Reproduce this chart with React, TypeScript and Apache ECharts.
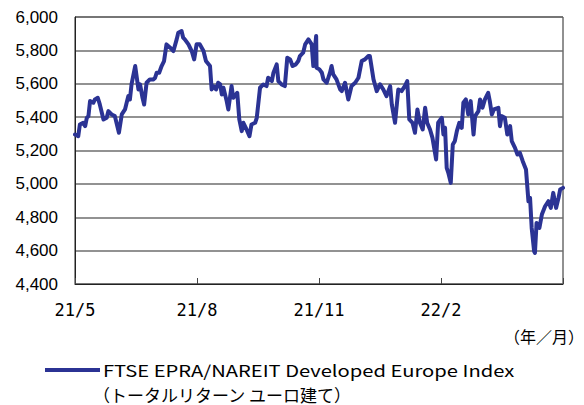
import React, { useEffect, useRef } from "react";
import * as echarts from "echarts";

// month offsets from 2021/5 (x position of each observation)
const monthOffsets = [
  0, 0.08, 0.12, 0.2, 0.25, 0.29, 0.33, 0.37, 0.45, 0.49, 0.56, 0.61, 0.7, 0.78, 0.82, 0.9, 0.98,
  1.08, 1.15, 1.23, 1.31, 1.35, 1.39, 1.48, 1.52, 1.56, 1.6, 1.66, 1.7, 1.76, 1.84, 1.93, 1.97,
  2.01, 2.07, 2.13, 2.19, 2.25, 2.34, 2.42, 2.5, 2.54, 2.62, 2.66, 2.7, 2.79, 2.87, 2.93, 2.99,
  3.07, 3.16, 3.22, 3.32, 3.36, 3.4, 3.47, 3.52, 3.57, 3.61, 3.65, 3.73, 3.77, 3.81, 3.85, 3.89,
  3.93, 3.99, 4.04, 4.1, 4.14, 4.2, 4.29, 4.34, 4.43, 4.47, 4.55, 4.63, 4.71, 4.75, 4.84, 4.88,
  4.96, 5.0, 5.08, 5.16, 5.22, 5.29, 5.35, 5.43, 5.49, 5.53, 5.61, 5.66, 5.74, 5.82, 5.86, 5.93,
  5.94, 6.01, 6.07, 6.11, 6.19, 6.27, 6.31, 6.35, 6.43, 6.52, 6.56, 6.64, 6.72, 6.8, 6.89, 6.97,
  7.05, 7.13, 7.21, 7.25, 7.34, 7.42, 7.5, 7.58, 7.66, 7.75, 7.79, 7.87, 7.95, 8.03, 8.11, 8.17,
  8.22, 8.3, 8.36, 8.42, 8.48, 8.55, 8.61, 8.66, 8.73, 8.79, 8.88, 8.93, 9.02, 9.06, 9.1, 9.14,
  9.18, 9.24, 9.29, 9.34, 9.39, 9.45, 9.51, 9.55, 9.61, 9.67, 9.73, 9.8, 9.84, 9.92, 9.96, 10.02,
  10.08, 10.16, 10.2, 10.25, 10.3, 10.41, 10.45, 10.49, 10.57, 10.63, 10.7, 10.74, 10.82, 10.88,
  10.94, 11.01, 11.09, 11.15, 11.19, 11.23, 11.29, 11.31, 11.35, 11.42, 11.48, 11.56, 11.64, 11.7,
  11.76, 11.83, 11.89, 11.93, 12.0,
];

const indexValues = [
  5296, 5286, 5356, 5366, 5346, 5396, 5406, 5496, 5486, 5506, 5516, 5476, 5386, 5396, 5436, 5416, 5406,
  5306, 5416, 5446, 5526, 5506, 5596, 5706, 5636, 5566, 5596, 5516, 5476, 5606, 5626, 5626, 5636,
  5666, 5666, 5706, 5736, 5836, 5816, 5796, 5866, 5906, 5916, 5876, 5866, 5836, 5796, 5746, 5836,
  5836, 5796, 5736, 5706, 5566, 5586, 5566, 5606, 5596, 5536, 5576, 5496, 5446, 5516, 5586, 5516,
  5526, 5546, 5386, 5316, 5366, 5336, 5286, 5356, 5366, 5396, 5576, 5596, 5586, 5636, 5616, 5666,
  5716, 5616, 5596, 5586, 5756, 5746, 5706, 5716, 5736, 5766, 5786, 5836, 5866, 5836, 5706, 5886,
  5696, 5686, 5666, 5626, 5606, 5666, 5706, 5656, 5626, 5566, 5556, 5606, 5506, 5586, 5606, 5636,
  5736, 5746, 5766, 5766, 5626, 5556, 5596, 5566, 5526, 5586, 5476, 5366, 5566, 5556, 5586, 5616,
  5386, 5366, 5306, 5446, 5366, 5326, 5456, 5366, 5326, 5276, 5146, 5366, 5396, 5296, 5336, 5096,
  5066, 5006, 5236, 5256, 5316, 5366, 5336, 5486, 5506, 5416, 5496, 5296, 5406, 5436, 5506, 5456,
  5506, 5546, 5496, 5416, 5446, 5456, 5346, 5406, 5396, 5296, 5346, 5256, 5216, 5176,
  5186, 5136, 5086, 4896, 4916, 4736, 4596, 4586, 4766, 4736, 4816, 4866, 4896, 4856,
  4946, 4856, 4916, 4966, 4976,
];

const xTickLabels = ["21/5", "21/8", "21/11", "22/2", ""];
const seriesName = "FTSE EPRA/NAREIT Developed Europe Index";
const seriesNameSub = "（トータルリターン ユーロ建て）";
const unitLabel = "（年／月）";

const LINE_COLOR = "#2b3394";

export default function App() {
  const ref = useRef<HTMLDivElement>(null);
  useEffect(() => {
    if (!ref.current) return;
    const chart = echarts.init(ref.current, undefined, { renderer: "svg" });
    const data = monthOffsets.map((m, i) => [m, indexValues[i]]);
    chart.setOption({
      animation: false,
      grid: {
        left: 75,
        top: 17,
        width: 488,
        height: 267,
        show: true,
        borderColor: "#222",
        borderWidth: 1,
      },
      xAxis: {
        type: "value",
        min: 0,
        max: 12,
        interval: 3,
        axisLine: { show: true, lineStyle: { color: "#222", width: 1 } },
        axisTick: { show: true, inside: true, length: 6, lineStyle: { color: "#444" } },
        splitLine: { show: false },
        axisLabel: {
          margin: 17,
          fontSize: 17,
          color: "#000",
          fontFamily: "'DejaVu Sans Mono', monospace",
          formatter: (v: number) => xTickLabels[Math.round(v / 3)] ?? "",
        },
      },
      yAxis: {
        type: "value",
        min: 4400,
        max: 6000,
        interval: 200,
        axisLine: { show: true, lineStyle: { color: "#222" } },
        axisTick: { show: false },
        splitLine: { show: true, lineStyle: { color: "#6e6e6e", width: 1.5 } },
        axisLabel: {
          margin: 17,
          fontSize: 17,
          color: "#000",
          fontFamily: "'Liberation Sans', Arial, sans-serif",
          formatter: (v: number) => v.toLocaleString("en-US"),
        },
      },
      series: [
        {
          type: "line",
          name: seriesName,
          data,
          showSymbol: false,
          symbol: "none",
          lineStyle: { color: LINE_COLOR, width: 4, join: "round", cap: "round" },
        },
      ],
      graphic: [
        {
          type: "text",
          x: 584,
          y: 336,
          style: {
            text: unitLabel,
            fontSize: 16,
            fill: "#000",
            align: "right",
            verticalAlign: "middle",
            fontFamily: "'Noto Sans CJK JP', sans-serif",
          },
        },
        {
          type: "line",
          shape: { x1: 45, y1: 370, x2: 100, y2: 370 },
          style: { stroke: LINE_COLOR, lineWidth: 4 },
        },
        {
          type: "text",
          x: 103,
          y: 370,
          scaleX: 1.26,
          style: {
            text: seriesName,
            fontSize: 16,
            fill: "#000",
            verticalAlign: "middle",
            fontFamily: "'Noto Sans CJK JP', sans-serif",
          },
        },
        {
          type: "text",
          x: 93,
          y: 394,
          style: {
            text: seriesNameSub,
            fontSize: 17,
            lineHeight: 18,
            fill: "#000",
            verticalAlign: "middle",
            fontFamily: "'Noto Sans CJK JP', sans-serif",
          },
        },
      ],
    });
    return () => chart.dispose();
  }, []);
  return <div ref={ref} style={{ width: 584, height: 405, position: "absolute", left: 0, top: 0 }} />;
}
